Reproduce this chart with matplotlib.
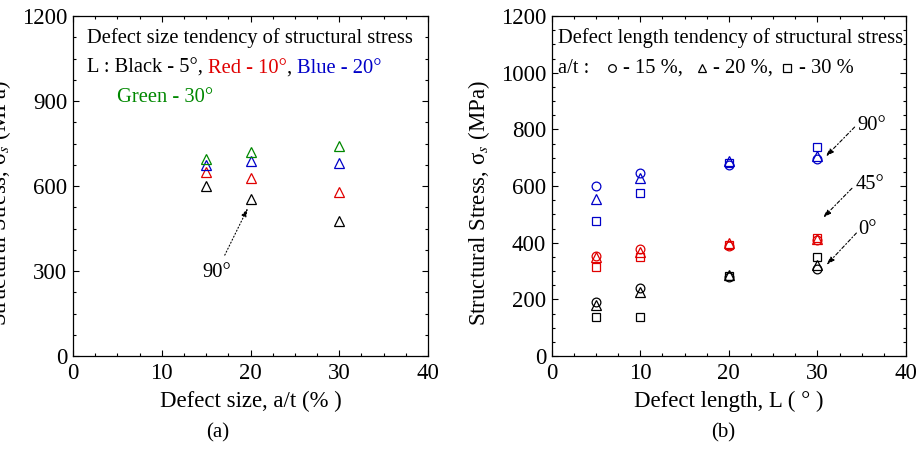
import matplotlib
matplotlib.use('Agg')
import matplotlib.pyplot as plt
from matplotlib.ticker import MultipleLocator

plt.rcParams['font.family'] = ['Liberation Serif', 'DejaVu Serif']
plt.rcParams['mathtext.fontset'] = 'stix'

# ---- data (a): defect size a/t vs structural stress, 90 deg location
size_at = [15, 20, 30]
stress_L5 = [600, 555, 478]     # black
stress_L10 = [649, 629, 578]    # red
stress_L20 = [674, 688, 681]    # blue
stress_L30 = [695, 720, 742]    # green

# ---- data (b): defect length L vs structural stress
length_L = [5, 10, 20, 30]
s90_at15 = [599, 645, 674, 695]
s90_at20 = [555, 630, 688, 706]
s90_at30 = [478, 574, 680, 736]
s45_at15 = [353, 376, 389, 408]
s45_at20 = [350, 368, 400, 412]
s45_at30 = [315, 348, 392, 418]
s0_at15 = [190, 239, 280, 308]
s0_at20 = [180, 227, 286, 322]
s0_at30 = [139, 139, 282, 350]

BLACK, RED, BLUE, GREEN = 'black', '#e00000', '#0000c8', '#008800'
FS_IN = 14.8     # text inside the panels
FS_AX = 16.4     # axis labels
FS_TK = 16.5     # tick labels
YLAB = 'Structural Stress, σ$_{s}$ (MPa)'

fig = plt.figure(figsize=(9.18, 4.5), dpi=100)
ax1 = fig.add_axes([73/918, 94/450, 355/918, 340/450])
ax2 = fig.add_axes([551.7/918, 94/450, 354.3/918, 340/450])

mk = dict(linestyle='none', fillstyle='none', markeredgewidth=0.9)

# ---------------- (a)
for vals, c in [(stress_L5, BLACK), (stress_L10, RED), (stress_L20, BLUE), (stress_L30, GREEN)]:
    ax1.plot(size_at, vals, marker='^', markersize=7.5, color=c, **mk)

ax1.set_xlim(0, 40)
ax1.set_ylim(0, 1200)
ax1.xaxis.set_major_locator(MultipleLocator(10))
ax1.xaxis.set_minor_locator(MultipleLocator(2.5))
ax1.yaxis.set_major_locator(MultipleLocator(300))
ax1.yaxis.set_minor_locator(MultipleLocator(75))
ax1.set_xlabel('Defect size, a/t (% )', fontsize=FS_AX, labelpad=5)
ax1.set_ylabel(YLAB, fontsize=FS_AX)
ax1.yaxis.set_label_coords(-0.168, 0.449)

ax1.text(0.039, 0.935, 'Defect size tendency of structural stress', transform=ax1.transAxes,
         fontsize=FS_IN, va='center', ha='left')
t = ax1.text(0.039, 0.847, 'L : Black - 5°, ', transform=ax1.transAxes,
             fontsize=FS_IN, va='center', ha='left', color=BLACK)
for s, c in [('Red - 10°', RED), (', ', BLACK), ('Blue - 20°', BLUE)]:
    t = ax1.annotate(s, xy=(1, 0), xycoords=t, va='bottom', ha='left', fontsize=FS_IN, color=c)
ax1.text(0.125, 0.759, 'Green - 30°', transform=ax1.transAxes,
         fontsize=FS_IN, va='center', ha='left', color=GREEN)

ax1.annotate('', xy=(19.7, 522), xytext=(17.1, 356),
             arrowprops=dict(arrowstyle='-|>,head_length=0.5,head_width=0.15', color='black',
                             lw=0.8, linestyle=(0, (1, 2)), shrinkA=0, shrinkB=0))
ax1.text(16.2, 296, '90°', fontsize=FS_IN, ha='center', va='center')

# ---------------- (b)
groups = [(s90_at15, s90_at20, s90_at30, BLUE),
          (s45_at15, s45_at20, s45_at30, RED),
          (s0_at15, s0_at20, s0_at30, BLACK)]
for a15, a20, a30, c in groups:
    ax2.plot(length_L, a15, marker='o', markersize=6.3, color=c, **mk)
    ax2.plot(length_L, a20, marker='^', markersize=7, color=c, **mk)
    ax2.plot(length_L, a30, marker='s', markersize=6, color=c, **mk)

ax2.set_xlim(0, 40)
ax2.set_ylim(0, 1200)
ax2.xaxis.set_major_locator(MultipleLocator(10))
ax2.xaxis.set_minor_locator(MultipleLocator(2.5))
ax2.yaxis.set_major_locator(MultipleLocator(200))
ax2.yaxis.set_minor_locator(MultipleLocator(50))
ax2.set_xlabel('Defect length, L ( ° )', fontsize=FS_AX, labelpad=5)
ax2.set_ylabel(YLAB, fontsize=FS_AX)
ax2.yaxis.set_label_coords(-0.168, 0.449)

ax2.text(0.018, 0.935, 'Defect length tendency of structural stress', transform=ax2.transAxes,
         fontsize=FS_IN, va='center', ha='left')
ax2.text(0.018, 0.847, 'a/t :', transform=ax2.transAxes, fontsize=FS_IN, va='center', ha='left')
for xm, m, s in [(0.169, 'o', '- 15 %,'), (0.424, '^', '- 20 %,'), (0.665, 's', '- 30 %')]:
    ax2.plot([xm], [0.847], marker=m, markersize=5.5, color='black', transform=ax2.transAxes, **mk)
    ax2.text(xm + 0.032, 0.847, s, transform=ax2.transAxes, fontsize=FS_IN, va='center', ha='left')

arrow_b = dict(arrowstyle='-|>,head_length=0.5,head_width=0.15', color='black',
               lw=0.8, linestyle=(0, (3, 2, 1, 2)), shrinkA=0, shrinkB=0)
for lab, txy, a0, a1 in [('90°', (36.1, 815), (34.2, 808), (30.9, 703)),
                         ('45°', (35.9, 604), (33.9, 592), (30.6, 487)),
                         ('0°', (35.7, 445), (34.4, 434), (31.0, 321))]:
    ax2.annotate('', xy=a1, xytext=a0, arrowprops=arrow_b)
    ax2.text(txy[0], txy[1], lab, fontsize=FS_IN, ha='center', va='center')

for ax in (ax1, ax2):
    ax.tick_params(which='both', direction='in', top=True, right=True, labelsize=FS_TK)
    ax.tick_params(axis='y', which='both', pad=4)
    ax.tick_params(axis='x', which='both', pad=5)
    ax.tick_params(which='major', length=4, width=0.8)
    ax.tick_params(which='minor', length=2.5, width=0.8)
    for sp in ax.spines.values():
        sp.set_linewidth(0.9)

fig.text(218/918, 1 - 433/450, '(a)', fontsize=15, ha='center', va='center')
fig.text(723/918, 1 - 433/450, '(b)', fontsize=15, ha='center', va='center')

fig.savefig('out.png', dpi=100)
